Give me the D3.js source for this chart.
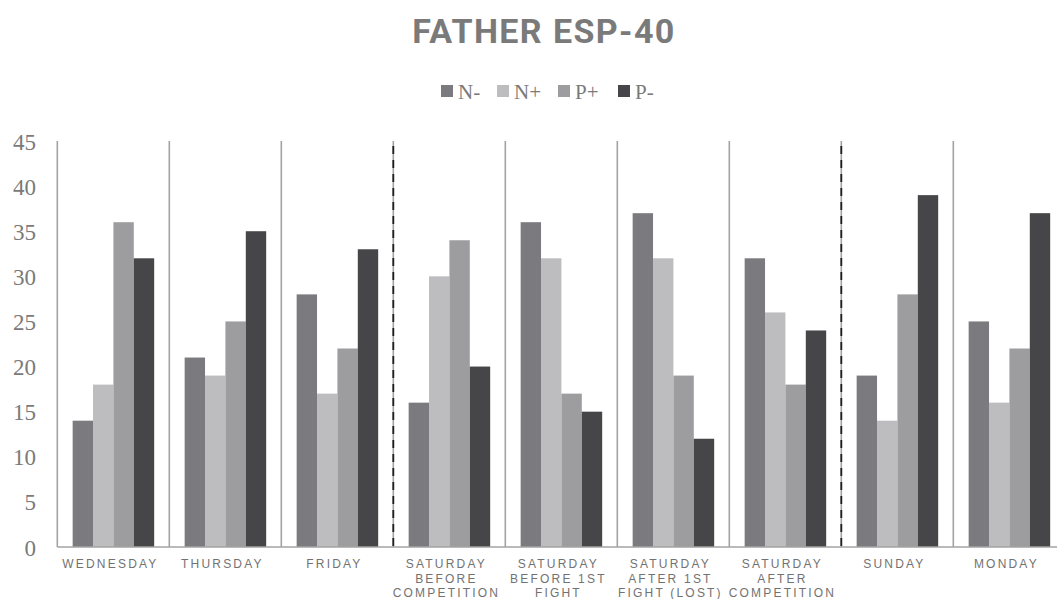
<!DOCTYPE html>
<html>
<head>
<meta charset="utf-8">
<script src="https://cdn.jsdelivr.net/npm/d3@7"></script>
<style>
html,body{margin:0;padding:0;background:#fff;}
svg{display:block;}
</style>
</head>
<body>
<svg id="chart" width="1057" height="599"></svg>
<script>
const title = "FATHER ESP-40";
const categories = ["WEDNESDAY","THURSDAY","FRIDAY","SATURDAY BEFORE COMPETITION","SATURDAY BEFORE 1ST FIGHT","SATURDAY AFTER 1ST FIGHT (LOST)","SATURDAY AFTER COMPETITION","SUNDAY","MONDAY"];
const categoryLines = [["WEDNESDAY"],["THURSDAY"],["FRIDAY"],["SATURDAY","BEFORE","COMPETITION"],["SATURDAY","BEFORE 1ST","FIGHT"],["SATURDAY","AFTER 1ST","FIGHT (LOST)"],["SATURDAY","AFTER","COMPETITION"],["SUNDAY"],["MONDAY"]];
const seriesNames = ["N-","N+","P+","P-"];
const nMinus = [14,21,28,16,36,37,32,19,25];
const nPlus  = [18,19,17,30,32,32,26,14,16];
const pPlus  = [36,25,22,34,17,19,18,28,22];
const pMinus = [32,35,33,20,15,12,24,39,37];
const yTicks = [0,5,10,15,20,25,30,35,40,45];
const dashedBefore = ["SATURDAY BEFORE COMPETITION","SUNDAY"];
const seriesColors = ["#7b7b7f","#bdbdc0","#9d9da0","#464648"];

(function(){
const seriesValues = [nMinus,nPlus,pPlus,pMinus];
const svg = d3.select("#chart");

const left = 57.3, step = 112, plotTop = 141, plotBottom = 547;
const x = d3.scaleBand().domain(categories).range([left, left + step*categories.length]).padding(0);
const bw = x.bandwidth();
const xs = d3.scaleBand().domain(seriesNames).range([bw*0.137, bw*0.865]).padding(0);
const y = d3.scaleLinear().domain([0,45]).range([plotBottom, plotTop]);

// title
svg.append("text")
  .attr("x", 544).attr("y", 43)
  .attr("text-anchor","middle")
  .style("font-family","Roboto, 'Liberation Sans', sans-serif")
  .style("font-weight","bold")
  .style("font-size","34px")
  .style("letter-spacing","1.4px")
  .style("fill","#7a7a7a")
  .text(title);

// legend
const legendX = [441, 497, 558, 618];
const lg = svg.append("g");
seriesNames.forEach((s,i)=>{
  lg.append("rect").attr("x",legendX[i]).attr("y",85).attr("width",12).attr("height",12).attr("fill",seriesColors[i]);
  lg.append("text").attr("x",legendX[i]+17).attr("y",98.5)
    .style("font-family","'Liberation Serif', serif").style("font-size","21px").style("fill","#7a7a7a")
    .text(s);
});

// bars
const groups = svg.append("g").selectAll("g").data(categories).join("g")
  .attr("transform", d => `translate(${x(d)},0)`);
groups.selectAll("rect").data((d,ci)=>seriesNames.map((s,si)=>({s, v: seriesValues[si][ci], c: seriesColors[si]})))
  .join("rect")
  .attr("x", d => xs(d.s))
  .attr("width", xs.bandwidth())
  .attr("y", d => y(d.v))
  .attr("height", d => y(0) - y(d.v))
  .attr("fill", d => d.c);

// separators (category boundaries)
const sepG = svg.append("g");
categories.forEach((c,i)=>{
  const xx = x(c);
  sepG.append("line").attr("x1",xx).attr("x2",xx).attr("y1",plotTop).attr("y2",plotBottom)
    .attr("stroke","#a3a3a3").attr("stroke-width",1.6);
  if (dashedBefore.includes(c)) {
    sepG.append("line").attr("x1",xx).attr("x2",xx).attr("y1",plotTop).attr("y2",plotBottom+4)
      .attr("stroke","#1e1e1e").attr("stroke-width",1.8)
      .attr("stroke-dasharray","8,6").attr("stroke-dashoffset",9);
  }
});

// x axis line
svg.append("line").attr("x1",left).attr("x2",1057).attr("y1",plotBottom).attr("y2",plotBottom)
  .attr("stroke","#a3a3a3").attr("stroke-width",1.6);

// y axis tick labels
const yAxis = d3.axisLeft(y).tickValues(yTicks).tickSize(0).tickPadding(0);
const ya = svg.append("g").attr("transform","translate(36,0)").call(yAxis);
ya.select(".domain").remove();
ya.selectAll("text")
  .attr("dy","0.35em")
  .style("font-family","'Liberation Serif', serif")
  .style("font-size","23px")
  .style("fill","#7a7a7a");

// x labels
const xl = svg.append("g");
categories.forEach((c,i)=>{
  const cx = x(c) + bw/2;
  categoryLines[i].forEach((ln,j)=>{
    xl.append("text").attr("x", cx - 2.9).attr("y", 568 + j*14.5)
      .attr("text-anchor","middle")
      .style("font-family","'Liberation Sans', Arial, sans-serif")
      .style("font-size","12px")
      .style("letter-spacing","2.2px")
      .style("fill","#727272")
      .text(ln);
  });
});
})();
</script>
</body>
</html>
